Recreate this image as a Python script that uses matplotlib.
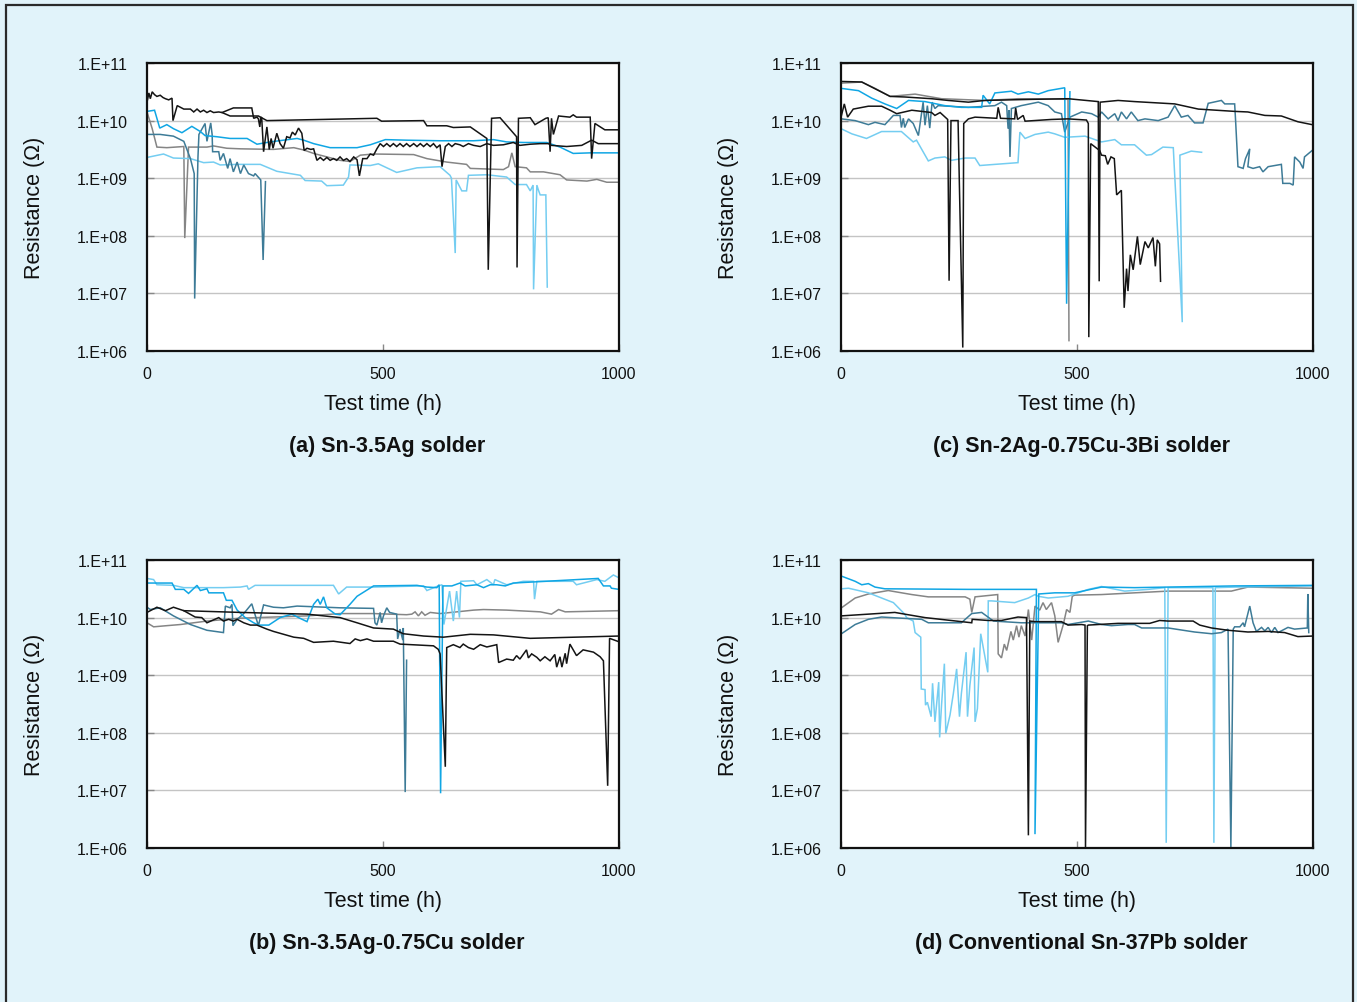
import numpy as np
import matplotlib
matplotlib.use("Agg")
import matplotlib.pyplot as plt
from matplotlib.patches import Rectangle
from matplotlib.ticker import FixedLocator, FixedFormatter, NullLocator

plt.rcParams['font.family'] = ['Liberation Sans', 'DejaVu Sans']

# ---------------- DATA ----------------
# each series: list of (test time in h, log10 of resistance in ohm)
x_ticks = [0, 500, 1000]
x_tick_labels = ["0", "500", "1000"]
y_ticks = [1e6, 1e7, 1e8, 1e9, 1e10, 1e11]
y_tick_labels = ["1.E+06", "1.E+07", "1.E+08", "1.E+09", "1.E+10", "1.E+11"]
x_label = "Test time (h)"
y_label = "Resistance (\u03a9)"
titles = ["(a) Sn-3.5Ag solder", "(c) Sn-2Ag-0.75Cu-3Bi solder",
          "(b) Sn-3.5Ag-0.75Cu solder", "(d) Conventional Sn-37Pb solder"]

# ---- (a) Sn-3.5Ag ----
a_gray = [(0,10.15),(11,9.86),(21,9.54),(42,9.53),(78,9.55),(80,7.96),(88,9.54),(127,9.54),(141,9.56),
          (169,9.52),(198,9.51),(268,9.50),(311,9.53),(332,9.49),(353,9.43),(381,9.37),(409,9.31),(430,9.29),
          (452,9.40),(480,9.42),(565,9.41),(593,9.34),(635,9.28),(677,9.24),(685,9.17),(755,9.15),(766,9.20),
          (773,9.44),(780,9.20),(804,9.18),(812,9.11),(840,9.11),(875,9.06),(889,8.97),(932,8.95),(953,8.98),
          (974,8.93),(1000,8.93)]
a_light = [(0,9.36),(35,9.42),(56,9.35),(92,9.34),(120,9.27),(141,9.28),(155,9.23),(191,9.24),(240,9.24),
           (275,9.12),(325,9.05),(335,8.96),(370,8.95),(381,8.87),(416,8.88),(427,9.02),(430,9.23),(473,9.22),
           (490,9.25),(529,9.10),(572,9.18),(621,9.20),(642,9.05),(645,9.00),(653,7.70),(655,8.97),(667,8.78),
           (677,8.78),(681,9.05),(720,9.06),(762,9.02),(780,8.89),(804,8.89),(812,8.78),(818,8.88),(819,7.07),
           (826,8.88),(829,8.80),(833,8.71),(845,8.71),(848,7.11)]
a_teal = [(0,9.76),(28,9.76),(56,9.73),(78,9.64),(92,9.34),(100,9.08),(101,6.91),(108,9.37),(110,9.76),
          (123,9.95),(127,9.64),(135,9.96),(138,9.76),(139,9.46),(152,9.46),(155,9.31),(162,9.43),(171,9.17),
          (176,9.34),(183,9.11),(191,9.28),(198,9.08),(205,9.23),(215,9.08),(226,9.04),(229,9.08),(241,8.97),
          (246,7.58),(251,8.94)]
a_blue = [(0,10.16),(16,10.18),(27,9.87),(42,9.93),(56,9.86),(74,9.79),(95,9.90),(113,9.81),(123,9.74),
          (148,9.72),(176,9.69),(212,9.69),(233,9.59),(261,9.63),(289,9.66),(318,9.69),(332,9.66),(353,9.60),
          (388,9.53),(445,9.53),(473,9.58),(505,9.67),(550,9.66),(621,9.65),(692,9.65),(734,9.67),(762,9.63),
          (797,9.62),(847,9.62),(875,9.54),(903,9.43),(939,9.44),(1000,9.44)]
a_black_1 = [(0,10.32),(4,10.48),(7,10.38),(11,10.50),(16,10.45),(21,10.42),(28,10.44),(34,10.40),(39,10.38),
             (46,10.36),(53,10.39),(55,10.00),(64,10.26),(78,10.20),(92,10.20),(99,10.15),(106,10.20),(113,10.15),
             (120,10.18),(127,10.14),(134,10.17),(141,10.14),(152,10.15),(159,10.14),(183,10.22),(222,10.22),
             (226,10.04),(233,10.06),(236,10.03),(239,9.89),(241,10.06),(243,10.05),(247,9.46),(254,9.89),
             (259,9.50),(263,9.69),(267,9.52),(275,9.78),(282,9.60),(289,9.52),(296,9.72),(303,9.70),(308,9.80),
             (314,9.75),(321,9.87),(328,9.78),(333,9.48),(339,9.52),(347,9.50),(353,9.51),(360,9.31),(367,9.36),
             (374,9.31),(381,9.36),(388,9.31),(395,9.34),(402,9.31),(409,9.37),(416,9.31),(423,9.34),(430,9.29),
             (438,9.37),(445,9.32),(450,9.04),(457,9.34),(466,9.34),(473,9.42),(480,9.40),(487,9.51),(494,9.60),
             (501,9.55),(508,9.60),(515,9.55),(522,9.60),(529,9.55),(536,9.60),(543,9.55),(550,9.60),(557,9.55),
             (565,9.60),(572,9.55),(579,9.60),(586,9.55),(593,9.60),(600,9.55),(607,9.60),(614,9.53),(621,9.58),
             (625,9.20),(632,9.55),(639,9.60),(646,9.55),(653,9.60),(663,9.58),(670,9.55),(681,9.60),(692,9.57),
             (706,9.55),(720,9.60),(734,9.57),(755,9.58),(776,9.62),(790,9.57),(812,9.59),(833,9.60),(850,9.60),
             (857,9.57),(889,9.55),(921,9.57),(942,9.66),(956,9.60),(1000,9.60)]
a_black_2 = [(159,10.14),(176,10.08),(236,10.08),(254,10.00),(487,10.04),(497,9.99),(586,10.00),(593,9.91),
             (635,9.91),(649,9.88),(685,9.89),(720,9.69),(723,7.41),(730,10.04),(748,10.05),(783,9.72),(784,7.45),
             (787,10.04),(812,10.05),(822,9.93),(845,10.04),(850,10.05),(854,9.46),(857,10.04),(861,9.76),
             (872,10.08),(896,10.06),(903,10.10),(910,10.06),(939,10.06),(942,9.34),(949,9.95),(970,9.84),(1000,9.84)]

# ---- (c) Sn-2Ag-0.75Cu-3Bi ----
c_gray = [(0,10.65),(44,10.67),(72,10.56),(104,10.42),(157,10.46),(213,10.38),(305,10.35),(375,10.38),
          (481,10.37),(483,6.18)]
c_light = [(0,9.86),(23,9.77),(54,9.69),(86,9.81),(128,9.81),(153,9.63),(160,9.66),(185,9.30),(199,9.35),
           (220,9.37),(234,9.31),(263,9.35),(284,9.35),(294,9.22),(326,9.24),(375,9.27),(379,9.80),(390,9.69),
           (411,9.76),(439,9.80),(453,9.77),(474,9.71),(517,9.73),(552,9.63),(580,9.67),(594,9.58),(622,9.58),
           (647,9.40),(658,9.41),(682,9.54),(704,9.53),(723,6.50),(718,9.40),(742,9.47),(764,9.45)]
c_teal = [(1,10.03),(30,10.00),(58,9.93),(72,9.97),(93,9.93),(111,10.09),(125,10.09),(128,9.88),(132,10.04),
          (135,9.88),(143,10.03),(153,9.95),(164,9.74),(174,10.32),(178,9.92),(183,10.26),(188,9.87),(193,10.32),
          (199,10.21),(206,10.26),(270,10.23),(326,10.26),(340,10.32),(351,10.26),(354,9.86),(356,10.18),
          (358,9.37),(361,10.21),(382,10.26),(418,10.32),(439,10.26),(453,10.15),(467,10.12),(474,9.80),
          (485,10.06),(510,10.15),(531,10.12),(545,10.06),(552,10.15),(566,10.03),(580,10.12),(587,10.00),
          (594,10.15),(605,10.03),(615,10.15),(629,10.00),(644,10.03),(672,10.00),(693,10.06),(707,10.26),
          (721,10.06),(735,10.09),(749,9.96),(767,9.96),(778,10.30),(806,10.35),(813,10.29),(834,10.29),
          (836,10.00),(841,9.20),(852,9.17),(857,9.34),(866,9.51),(862,9.20),(873,9.17),(887,9.20),(894,9.11),
          (905,9.20),(933,9.24),(936,8.91),(951,8.91),(958,8.88),(961,9.37),(972,9.28),(979,9.17),(982,9.37),
          (998,9.48)]
c_blue = [(0,10.56),(37,10.52),(65,10.39),(93,10.29),(118,10.21),(143,10.35),(178,10.33),(220,10.26),
          (255,10.23),(298,10.23),(301,10.44),(315,10.29),(326,10.48),(361,10.51),(375,10.46),(397,10.50),
          (418,10.46),(439,10.52),(474,10.57),(478,6.82),(485,10.50)]
c_black_1 = [(0,10.68),(44,10.67),(104,10.42),(135,10.41),(192,10.38),(227,10.35),(270,10.32),(305,10.35),
             (411,10.37),(481,10.38),(545,10.33),(547,7.21),(549,10.32),(587,10.35),(622,10.33),(707,10.29),
             (757,10.20),(834,10.16),(862,10.15),(898,10.09),(933,10.08),(968,9.98),(998,9.93)]
c_black_2 = [(1,10.09),(7,10.29),(14,10.06),(26,10.20),(58,10.25),(86,10.25),(104,10.18),(118,10.12),
             (150,10.18),(171,10.16),(192,10.14),(199,10.09),(210,10.14),(226,10.02),(229,7.22),(233,10.00),
             (248,10.00),(258,6.06),(260,9.95),(270,10.03),(284,10.06),(330,10.04),(333,10.23),(338,10.04),
             (368,10.03),(370,10.22),(374,10.02),(386,10.09),(390,9.99),(446,10.02),(481,10.03),(520,10.01),
             (524,9.95),(525,6.24),(529,9.60),(548,9.48),(552,9.40),(560,9.39),(565,9.24),(572,9.37),(579,9.34),
             (584,8.71),(594,8.79),(600,6.75),(605,7.43),(608,7.04),(613,7.67),(619,7.41),(628,7.99),(634,7.50),
             (644,7.90),(651,7.79),(661,7.97),(666,7.47),(670,7.93),(675,7.86),(677,7.21)]

# ---- (b) Sn-3.5Ag-0.75Cu ----
b_gray = [(0,9.91),(14,9.84),(42,9.86),(71,9.88),(127,9.94),(198,9.99),(268,10.01),(339,10.03),(409,10.07),
          (480,10.07),(550,10.05),(561,10.06),(568,10.10),(575,10.03),(582,10.10),(589,10.04),(600,10.09),
          (621,10.07),(692,10.13),(713,10.14),(762,10.13),(833,10.10),(857,10.06),(872,10.14),(886,10.10),
          (1000,10.12)]
b_light = [(0,10.68),(14,10.66),(21,10.57),(56,10.56),(78,10.52),(113,10.52),(162,10.52),(198,10.53),
           (212,10.55),(215,10.49),(229,10.56),(268,10.56),(395,10.56),(406,10.41),(423,10.53),(480,10.53),
           (586,10.55),(593,10.47),(617,10.55),(625,10.57),(629,9.88),(641,10.46),(649,9.94),(656,10.46),
           (662,10.00),(665,10.63),(692,10.64),(699,10.57),(720,10.66),(734,10.57),(737,10.66),(762,10.57),
           (797,10.63),(819,10.63),(821,10.32),(826,10.63),(903,10.63),(910,10.57),(953,10.66),(970,10.63),
           (988,10.74),(1000,10.69)]
b_teal = [(0,10.18),(7,10.14),(28,10.17),(56,10.03),(92,9.88),(127,9.78),(162,9.74),(166,10.20),(176,10.17),
          (180,10.23),(182,9.86),(191,9.97),(205,10.07),(222,10.24),(233,9.94),(236,9.86),(247,10.22),
          (268,10.18),(289,10.17),(318,10.20),(409,10.17),(480,10.16),(483,9.91),(487,9.87),(494,10.09),
          (497,9.91),(501,10.03),(508,10.17),(514,10.09),(529,10.06),(531,9.63),(536,9.80),(542,9.61),
          (543,9.82),(547,6.97),(550,9.26)]
b_blue = [(0,10.60),(53,10.60),(60,10.49),(78,10.49),(88,10.42),(106,10.56),(113,10.47),(127,10.50),
          (131,10.43),(162,10.43),(168,10.30),(180,10.30),(191,10.13),(208,10.00),(226,9.91),(236,9.87),
          (258,9.87),(282,10.00),(307,10.06),(321,10.00),(339,9.93),(353,10.23),(362,10.32),(367,10.23),
          (374,10.36),(381,10.17),(399,10.06),(409,10.05),(430,10.23),(445,10.37),(480,10.55),(572,10.56),
          (593,10.53),(614,10.52),(619,10.57),(622,6.95),(627,10.55),(646,10.55),(663,10.60),(674,10.55),
          (699,10.57),(713,10.52),(727,10.57),(741,10.57),(759,10.55),(776,10.60),(956,10.68),(967,10.55),
          (981,10.55),(984,10.51),(1000,10.49)]
b_black_1 = [(0,10.09),(21,10.18),(39,10.12),(56,10.18),(78,10.12),(198,10.09),(339,10.06),(409,10.00),
             (445,9.91),(480,9.82),(522,9.80),(543,9.72),(586,9.68),(628,9.66),(685,9.71),(734,9.70),
             (812,9.64),(1000,9.68)]
b_black_2 = [(78,10.12),(102,10.01),(116,10.00),(127,9.91),(138,9.95),(152,10.00),(162,9.94),(173,9.97),
             (183,9.94),(191,9.97),(205,9.91),(219,9.87),(233,9.87),(254,9.80),(268,9.76),(311,9.66),(332,9.64),
             (353,9.57),(395,9.59),(430,9.55),(441,9.63),(452,9.60),(466,9.63),(480,9.59),(522,9.59),(536,9.54),
             (607,9.51),(617,9.45),(621,9.37),(632,7.41),(635,9.48),(649,9.53),(663,9.48),(670,9.54),(681,9.48),
             (692,9.45),(706,9.53),(720,9.49),(741,9.53),(745,9.22),(762,9.28),(776,9.26),(783,9.34),(790,9.28),
             (804,9.44),(808,9.30),(815,9.37),(826,9.31),(833,9.25),(843,9.32),(854,9.25),(864,9.36),(868,9.14),
             (875,9.32),(879,9.14),(886,9.38),(889,9.20),(896,9.54),(910,9.34),(924,9.44),(946,9.40),(960,9.32),
             (967,9.25),(976,7.08),(980,9.64),(1000,9.58)]

# ---- (d) Conventional Sn-37Pb ----
d_gray = [(1,10.17),(30,10.34),(58,10.41),(100,10.47),(150,10.40),(185,10.36),(263,10.36),(273,10.32),
          (277,10.09),(284,10.36),(332,10.40),(333,9.37),(340,9.30),(346,9.54),(351,9.43),(360,9.76),(365,9.61),
          (372,9.86),(377,9.66),(382,9.86),(390,9.68),(397,10.14),(404,9.61),(411,10.20),(421,10.13),
          (428,10.26),(435,10.14),(446,10.26),(453,10.03),(460,9.57),(471,9.88),(478,10.14),(485,10.09),
          (490,10.37),(495,10.39),(552,10.40),(622,10.43),(693,10.46),(827,10.46),(862,10.53),(1000,10.51)]
d_light = [(1,10.50),(16,10.51),(58,10.43),(111,10.26),(135,10.06),(139,10.00),(153,9.94),(157,9.74),
           (169,9.66),(170,8.76),(178,8.75),(179,8.48),(183,8.53),(191,8.28),(194,8.86),(199,8.19),(207,8.88),
           (209,7.92),(213,8.48),(219,9.20),(222,7.99),(231,8.31),(238,8.68),(245,9.11),(251,8.28),(255,8.68),
           (265,9.40),(268,8.28),(273,8.82),(282,9.48),(284,8.19),(289,8.42),(296,9.72),(311,9.05),(312,10.29),
           (319,10.29),(368,10.26),(397,10.34),(411,10.40),(418,10.37),(439,10.34),(481,10.37),(524,10.49),
           (552,10.54),(601,10.46),(651,10.49),(686,10.52),(689,6.09),(693,10.52),(788,10.52),(790,6.09),
           (793,10.52),(834,10.53),(1000,10.55)]
d_teal = [(1,9.72),(30,9.88),(58,9.97),(86,10.01),(128,9.99),(171,9.97),(185,9.91),(255,9.91),(277,10.07),
          (298,10.09),(323,9.94),(382,9.91),(467,9.91),(481,9.88),(524,9.94),(552,9.88),(573,9.86),(608,9.88),
          (622,9.88),(637,9.82),(693,9.82),(749,9.75),(785,9.72),(806,9.74),(820,9.80),(826,6.01),(831,9.80),
          (834,9.84),(845,9.84),(852,9.91),(855,9.84),(866,10.20),(873,9.91),(880,9.76),(891,9.83),(898,9.77),
          (905,9.83),(912,9.74),(919,9.83),(926,9.74),(933,9.77),(947,9.83),(961,9.80),(988,9.82),(989,10.41),
          (991,9.74)]
d_blue = [(1,10.72),(30,10.63),(44,10.57),(58,10.59),(72,10.53),(93,10.50),(270,10.49),(414,10.49),
          (411,6.24),(419,10.41),(453,10.43),(495,10.43),(552,10.53),(622,10.52),(693,10.53),(834,10.55),
          (1000,10.56)]
d_black = [(1,10.03),(58,10.06),(114,10.09),(135,10.06),(178,10.00),(255,9.93),(277,9.91),(278,9.97),
           (312,9.95),(340,9.95),(375,10.01),(393,10.00),(397,6.22),(400,9.94),(411,9.93),(467,9.93),
           (481,9.87),(510,9.88),(517,9.87),(518,6.00),(522,9.86),(524,9.87),(587,9.90),(654,9.90),(675,9.95),
           (693,9.94),(746,9.94),(760,9.87),(785,9.82),(820,9.78),(862,9.75),(905,9.76),(940,9.74),(968,9.67),
           (1000,9.68)]

# ---------------- STYLE ----------------
BG = '#e1f3fa'
C_BLACK = '#141414'
C_GRAY = '#858585'
C_BLUE = '#10a6e4'
C_LIGHT = '#74cdf1'
C_TEAL = '#3d7b97'

panels = [
    (a_gray, a_light, a_teal, a_blue, a_black_1, a_black_2),
    (c_gray, c_light, c_teal, c_blue, c_black_1, c_black_2),
    (b_gray, b_light, b_teal, b_blue, b_black_1, b_black_2),
    (d_gray, d_light, d_teal, d_blue, d_black, None),
]
colors = [C_GRAY, C_LIGHT, C_TEAL, C_BLUE, C_BLACK, C_BLACK]

W, H = 1357, 1003
fig = plt.figure(figsize=(W / 100, H / 100), dpi=100, facecolor=BG)
fig.patches.append(Rectangle((6 / W, -0.01), (1353 - 6) / W, 1.01 - 6 / H,
                             transform=fig.transFigure, fill=False,
                             edgecolor='#2a2a2a', linewidth=1.6, zorder=0))

ax_px = [(147, 64), (841, 64), (147, 561), (841, 561)]  # left, top in pixels
ax_w, ax_h = 472, 288

for i, (series_set, title) in enumerate(zip(panels, titles)):
    left, top = ax_px[i]
    ax = fig.add_axes([left / W, 1 - (top + ax_h) / H, ax_w / W, ax_h / H])
    ax.set_facecolor('white')
    ax.set_yscale('log')
    ax.set_xlim(0, 1000)
    ax.set_ylim(1e6, 1e11)
    for s, col in zip(series_set, colors):
        if s is None:
            continue
        h = np.array([p[0] for p in s], dtype=float)
        r = 10.0 ** np.array([p[1] for p in s], dtype=float)
        ax.plot(h, r, color=col, lw=1.1, solid_joinstyle='miter', zorder=3)
    ax.yaxis.set_major_locator(FixedLocator(y_ticks))
    ax.yaxis.set_major_formatter(FixedFormatter(y_tick_labels))
    ax.yaxis.set_minor_locator(NullLocator())
    ax.xaxis.set_major_locator(FixedLocator(x_ticks))
    ax.xaxis.set_major_formatter(FixedFormatter(x_tick_labels))
    ax.grid(axis='y', color='#c4c4c4', lw=1.0, zorder=1)
    ax.tick_params(axis='both', direction='in', length=5, width=1, color='#888888',
                   labelsize=11.5, colors='#888888', labelcolor='#111111')
    ax.tick_params(axis='x', pad=11)
    ax.tick_params(axis='y', pad=14)
    for sp in ax.spines.values():
        sp.set_linewidth(1.6)
        sp.set_color('#111111')
        sp.set_zorder(5)
    ax.text(0.5, -0.184, x_label, transform=ax.transAxes, ha='center', va='center',
            fontsize=15.5, color='#111111')
    ax.text(-0.2394, 0.5, y_label, transform=ax.transAxes, ha='center', va='center',
            rotation=90, fontsize=15.5, color='#111111')
    ax.text(0.5085, -0.329, title, transform=ax.transAxes, ha='center', va='center',
            fontsize=15.5, fontweight='bold', color='#111111')

fig.savefig('out.png', dpi=100, facecolor=BG)
